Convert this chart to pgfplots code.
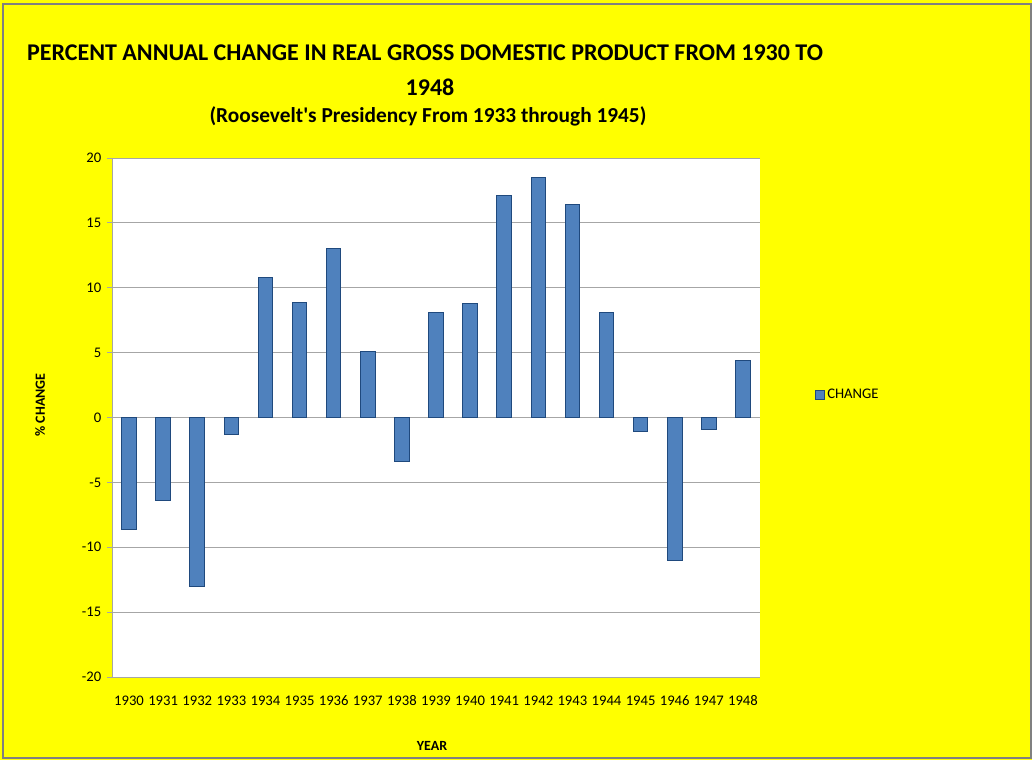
\documentclass[border=0pt]{standalone}
\usepackage{pgfplots}
\pgfplotsset{compat=1.18}
\usepackage{fontspec}
\setmainfont{Carlito}
\definecolor{bg}{HTML}{FFFF00}
\definecolor{barfill}{HTML}{4F81BD}
\definecolor{barline}{HTML}{1F497D}
\definecolor{gridc}{HTML}{A6A6A6}
\definecolor{framec}{HTML}{808080}
\pgfplotstableread{
x y
0 -8.6
1 -6.4
2 -13.0
3 -1.3
4 10.8
5 8.9
6 13.0
7 5.1
8 -3.4
9 8.1
10 8.8
11 17.1
12 18.5
13 16.4
14 8.1
15 -1.1
16 -11.0
17 -0.9
18 4.4
}\gdpdata
\begin{document}
\begin{tikzpicture}[x=0.75pt,y=-0.75pt]
\fill[bg] (0,0) rectangle (1032,760);
\draw[framec, line width=1pt] (3,4) rectangle (1031,758);
\coordinate (A) at (112,677);
\begin{axis}[
  at={(A)}, anchor=south west,
  scale only axis, width=486pt, height=389.25pt,
  xmin=-0.5, xmax=18.5, ymin=-20, ymax=20,
  axis background/.style={fill=white},
  axis x line*=bottom, axis y line*=left,
  axis line style={gridc, line width=0.75pt},
  ytick={-20,-15,-10,-5,0,5,10,15,20},
  xtick={0,1,...,18},
  xticklabels={1930,1931,1932,1933,1934,1935,1936,1937,1938,1939,1940,1941,1942,1943,1944,1945,1946,1947,1948},
  ymajorgrids, grid style={gridc, line width=0.75pt},
  tick align=outside, major tick length=3.5pt,
  ytick style={gridc, line width=0.75pt},
  xtick style={draw=none},
  /pgf/number format/assume math mode=true,
  yticklabel style={font=\fontsize{11}{13}\selectfont, xshift=-1pt},
  xticklabel style={font=\fontsize{11}{13}\selectfont, text height=8pt, text depth=0pt, yshift=-6pt},
  ybar, bar width=10.9pt,
  legend style={at={(1.078,0.543)}, anchor=west, draw=none, fill=none,
    font=\fontsize{11}{13}\selectfont},
  legend image code/.code={\draw[fill=barfill,draw=barline,line width=0.75pt] (0pt,-3.3pt) rectangle (6.6pt,3.3pt);},
]
\addplot[fill=barfill, draw=barline, line width=0.75pt] table[x=x,y=y] {\gdpdata};
\addlegendentry{CHANGE}
\end{axis}
\node[font=\bfseries\fontsize{18}{20}\selectfont] at (425,53) {PERCENT ANNUAL CHANGE IN REAL GROSS DOMESTIC PRODUCT FROM 1930 TO};
\node[font=\bfseries\fontsize{18}{20}\selectfont] at (430,87) {1948};
\node[font=\bfseries\fontsize{16}{18}\selectfont] at (428,116) {(Roosevelt\textquotesingle s Presidency From 1933 through 1945)};
\node[rotate=90, font=\bfseries\fontsize{10.5}{12}\selectfont] at (40,405) {\% CHANGE};
\node[font=\bfseries\fontsize{10.5}{12}\selectfont] at (432,746) {YEAR};
\end{tikzpicture}
\end{document}
